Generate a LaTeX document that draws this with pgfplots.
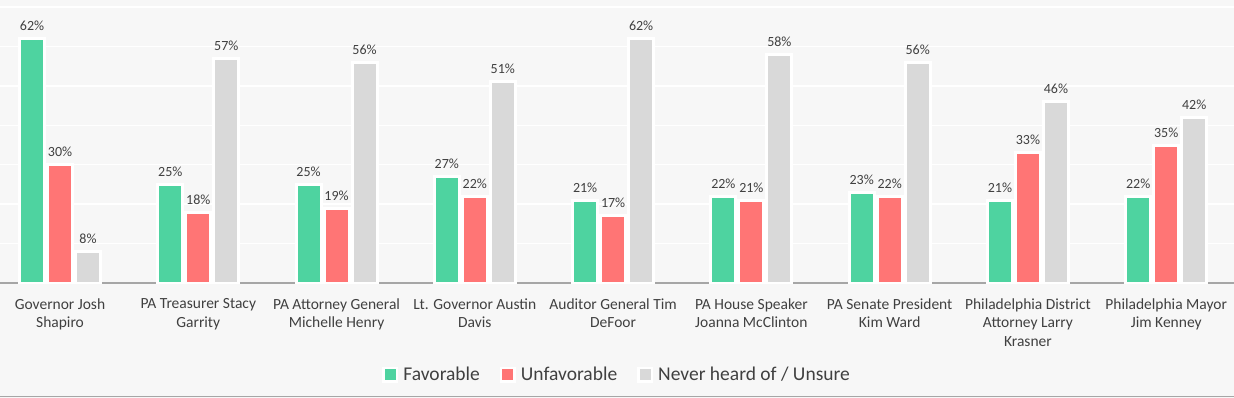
\documentclass[border=0pt]{standalone}
\usepackage{pgfplots}
\pgfplotsset{compat=1.18}
\usepackage{fontspec}
\setmainfont{Carlito}
\definecolor{fav}{RGB}{78,211,160}
\definecolor{unfav}{RGB}{255,117,117}
\definecolor{unsure}{RGB}{217,217,217}
\definecolor{bgcol}{RGB}{247,247,247}
\definecolor{txt}{RGB}{64,64,64}
\definecolor{axgray}{RGB}{166,166,166}
\pgfplotsset{
  sqleg/.style={legend image code/.code={
    \fill[white] (0bp,-6.5bp) rectangle (13bp,6.5bp);
    \fill[#1] (2.5bp,-4bp) rectangle (10.5bp,4bp);}}
}
\begin{document}
\begin{tikzpicture}
\fill[bgcol] (0,-115bp) rectangle (1234bp,283bp);
\begin{axis}[
  scale only axis, width=1234bp, height=276bp,
  xmin=-0.434, xmax=8.49, ymin=0, ymax=70,
  ybar=3bp, bar width=25bp,
  axis lines*=left,
  y axis line style={draw=none},
  x axis line style={draw=axgray, line width=2bp},
  xtick={0,...,8},
  xticklabels={{Governor Josh\\Shapiro},{PA Treasurer Stacy\\Garrity},{PA Attorney General\\Michelle Henry},{Lt. Governor Austin\\Davis},{Auditor General Tim\\DeFoor},{PA House Speaker\\Joanna McClinton},{PA Senate President\\Kim Ward},{Philadelphia District\\Attorney Larry\\Krasner},{Philadelphia Mayor\\Jim Kenney}},
  xticklabel style={anchor=north, align=center, inner sep=0pt, yshift=-15.3bp, text=txt, font=\fontsize{15.5bp}{18.5bp}\selectfont},
  ytick={10,20,...,70}, yticklabels={},
  major tick length=0pt,
  ymajorgrids, grid style={white, line width=1.3bp},
  /pgf/number format/assume math mode=true,
  nodes near coords={\pgfmathprintnumber{\pgfplotspointmeta}\%},
  every node near coord/.append style={anchor=base, inner sep=0pt, yshift=8bp, text=txt, font=\fontsize{14bp}{16bp}\selectfont},
  legend columns=3,
  legend style={draw=none, fill=none, at={(0.4993,-0.333)}, anchor=center,
    column sep=5bp,
    /tikz/every even column/.append style={column sep=20bp},
    nodes={inner sep=0pt, text=txt, font=\fontsize{19.5bp}{22bp}\selectfont}},
]
\addplot[fill=fav, draw=white, line width=3bp, sqleg=fav] coordinates {(0,62) (1,25) (2,25) (3,27) (4,21) (5,22) (6,23) (7,21) (8,22)};
\addplot[fill=unfav, draw=white, line width=3bp, sqleg=unfav] coordinates {(0,30) (1,18) (2,19) (3,22) (4,17) (5,21) (6,22) (7,33) (8,35)};
\addplot[fill=unsure, draw=white, line width=3bp, sqleg=unsure] coordinates {(0,8) (1,57) (2,56) (3,51) (4,62) (5,58) (6,56) (7,46) (8,42)};
\legend{Favorable, Unfavorable, Never heard of / Unsure}
\end{axis}
\draw[axgray, line width=1.5bp] (0,-113.5bp) -- (1234bp,-113.5bp);
\pgfresetboundingbox
\useasboundingbox (0,-115bp) rectangle (1234bp,283bp);
\end{tikzpicture}
\end{document}
